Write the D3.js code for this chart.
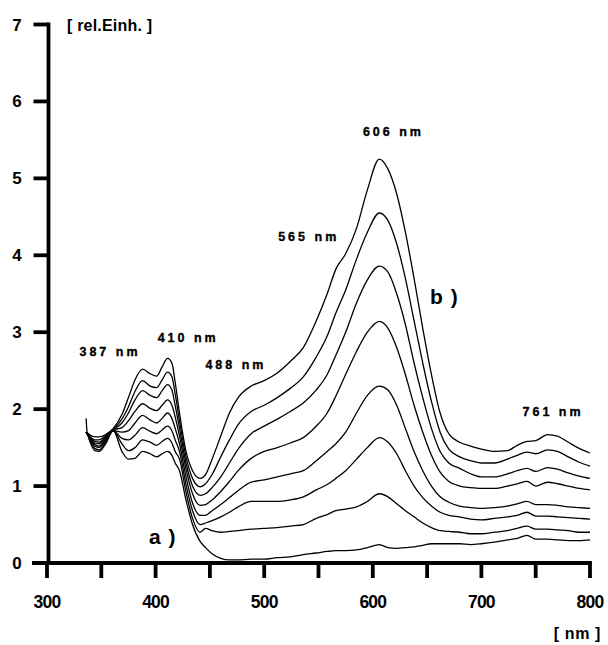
<!DOCTYPE html>
<html>
<head>
<meta charset="utf-8">
<script src="https://cdn.jsdelivr.net/npm/d3@7"></script>
<style>
  html, body { margin: 0; padding: 0; background: #fff; }
  svg { display: block; }
  text { font-family: "Liberation Sans", Arial, sans-serif; font-weight: bold; fill: #000; }
</style>
</head>
<body>
<svg id="chart" width="608" height="645"></svg>
<script>
// Wavelength grid (nm) shared by all spectra
const wavelengths = [336, 337, 340, 344, 348, 354, 361, 369, 375, 381, 388, 395, 401, 406, 411, 415, 418, 422, 428, 434, 441, 446, 452, 460, 468, 476, 488, 500, 512, 524, 536, 548, 558, 566, 575, 585, 595, 606, 614, 622, 630, 638, 646, 654, 662, 670, 680, 690, 700, 712, 724, 733, 742, 750, 761, 770, 780, 790, 800];

// Absorption spectra, rel. units (lowest = a, highest = b)
const spectrum1 = [1.70, 1.68, 1.56, 1.46, 1.45, 1.55, 1.72, 1.45, 1.35, 1.36, 1.45, 1.42, 1.38, 1.42, 1.45, 1.40, 1.30, 1.20, 0.82, 0.50, 0.28, 0.20, 0.12, 0.06, 0.04, 0.04, 0.05, 0.05, 0.07, 0.08, 0.11, 0.13, 0.15, 0.16, 0.16, 0.17, 0.20, 0.24, 0.20, 0.19, 0.20, 0.21, 0.23, 0.25, 0.25, 0.25, 0.25, 0.24, 0.25, 0.27, 0.30, 0.32, 0.36, 0.31, 0.31, 0.30, 0.29, 0.29, 0.30];
const spectrum2 = [1.70, 1.68, 1.58, 1.49, 1.47, 1.57, 1.72, 1.55, 1.46, 1.50, 1.60, 1.57, 1.53, 1.58, 1.62, 1.56, 1.45, 1.35, 0.92, 0.58, 0.40, 0.45, 0.42, 0.40, 0.41, 0.42, 0.44, 0.45, 0.46, 0.48, 0.50, 0.58, 0.63, 0.68, 0.70, 0.73, 0.80, 0.90, 0.86, 0.77, 0.68, 0.60, 0.52, 0.46, 0.42, 0.41, 0.40, 0.38, 0.38, 0.40, 0.42, 0.45, 0.48, 0.44, 0.44, 0.43, 0.42, 0.40, 0.40];
const spectrum3 = [1.70, 1.68, 1.60, 1.52, 1.50, 1.59, 1.72, 1.62, 1.60, 1.66, 1.76, 1.71, 1.68, 1.73, 1.78, 1.72, 1.60, 1.45, 1.02, 0.68, 0.50, 0.52, 0.55, 0.60, 0.66, 0.73, 0.80, 0.80, 0.80, 0.82, 0.86, 0.95, 1.02, 1.10, 1.20, 1.35, 1.50, 1.63, 1.57, 1.42, 1.20, 1.00, 0.85, 0.74, 0.66, 0.62, 0.60, 0.57, 0.56, 0.58, 0.60, 0.62, 0.66, 0.61, 0.61, 0.60, 0.59, 0.58, 0.57];
const spectrum4 = [1.70, 1.68, 1.61, 1.54, 1.52, 1.61, 1.72, 1.70, 1.72, 1.82, 1.92, 1.86, 1.82, 1.88, 1.95, 1.88, 1.75, 1.55, 1.12, 0.78, 0.62, 0.62, 0.68, 0.76, 0.85, 0.94, 1.05, 1.08, 1.12, 1.16, 1.20, 1.33, 1.45, 1.55, 1.70, 1.95, 2.18, 2.30, 2.25, 2.05, 1.75, 1.45, 1.20, 1.00, 0.86, 0.79, 0.74, 0.72, 0.71, 0.72, 0.74, 0.77, 0.80, 0.76, 0.76, 0.75, 0.73, 0.72, 0.71];
const spectrum5 = [1.70, 1.68, 1.62, 1.56, 1.55, 1.63, 1.73, 1.76, 1.85, 1.97, 2.07, 2.01, 1.98, 2.05, 2.12, 2.05, 1.90, 1.65, 1.22, 0.90, 0.75, 0.76, 0.82, 0.93, 1.06, 1.20, 1.36, 1.45, 1.50, 1.56, 1.63, 1.78, 1.95, 2.17, 2.45, 2.75, 3.00, 3.14, 3.05, 2.80, 2.45, 2.05, 1.70, 1.40, 1.18, 1.06, 1.00, 0.98, 0.97, 0.97, 1.00, 1.03, 1.06, 1.00, 1.05, 1.03, 1.00, 0.97, 0.95];
const spectrum6 = [1.70, 1.68, 1.63, 1.58, 1.57, 1.64, 1.73, 1.82, 1.95, 2.12, 2.24, 2.18, 2.15, 2.24, 2.32, 2.25, 2.05, 1.75, 1.30, 1.00, 0.88, 0.90, 0.98, 1.12, 1.30, 1.48, 1.68, 1.78, 1.87, 1.97, 2.08, 2.25, 2.45, 2.70, 3.00, 3.38, 3.68, 3.86, 3.78, 3.50, 3.10, 2.60, 2.15, 1.75, 1.45, 1.30, 1.23, 1.16, 1.12, 1.12, 1.16, 1.20, 1.23, 1.19, 1.24, 1.22, 1.17, 1.13, 1.10];
const spectrum7 = [1.70, 1.68, 1.64, 1.60, 1.60, 1.66, 1.74, 1.87, 2.03, 2.23, 2.37, 2.30, 2.28, 2.38, 2.48, 2.42, 2.20, 1.85, 1.38, 1.10, 0.99, 1.03, 1.15, 1.38, 1.60, 1.80, 1.97, 2.05, 2.15, 2.27, 2.42, 2.68, 2.95, 3.25, 3.55, 3.95, 4.30, 4.55, 4.45, 4.15, 3.70, 3.15, 2.60, 2.10, 1.70, 1.48, 1.38, 1.33, 1.30, 1.30, 1.35, 1.40, 1.44, 1.42, 1.47, 1.45, 1.38, 1.31, 1.26];
const spectrum8 = [1.88, 1.70, 1.66, 1.64, 1.64, 1.67, 1.75, 1.93, 2.15, 2.38, 2.52, 2.46, 2.43, 2.55, 2.66, 2.60, 2.35, 1.95, 1.45, 1.20, 1.10, 1.15, 1.35, 1.65, 1.95, 2.15, 2.30, 2.37, 2.47, 2.62, 2.80, 3.15, 3.50, 3.82, 4.02, 4.35, 4.85, 5.25, 5.12, 4.80, 4.30, 3.70, 3.05, 2.45, 1.95, 1.68, 1.57, 1.52, 1.48, 1.45, 1.46, 1.53, 1.58, 1.59, 1.67, 1.65, 1.57, 1.49, 1.43];
const spectra = [spectrum1, spectrum2, spectrum3, spectrum4, spectrum5, spectrum6, spectrum7, spectrum8];

// Axis ticks
const xTickValues = [300, 350, 400, 450, 500, 550, 600, 650, 700, 750, 800];
const xTickLabels = [300, 400, 500, 600, 700, 800];
const yTickValues = [0, 1, 2, 3, 4, 5, 6, 7];

// Band annotations: label, wavelength, height (rel. units)
const bandLabels = ["387 nm", "410 nm", "488 nm", "565 nm", "606 nm", "761 nm"];
const bandNm =     [ 358,      430,      474,      541,      619,      766    ];
const bandLevel =  [ 2.69,     2.87,     2.52,     4.18,     5.55,     1.91   ];

const svg = d3.select("#chart");

const x = d3.scaleLinear().domain([300, 800]).range([47, 590]);
const y = d3.scaleLinear().domain([0, 7]).range([563, 24.5]);

// Spectra
const line = d3.line()
  .x((d, i) => x(wavelengths[i]))
  .y(d => y(d))
  .curve(d3.curveMonotoneX);

svg.append("g")
  .selectAll("path")
  .data(spectra)
  .join("path")
  .attr("d", line)
  .attr("fill", "none")
  .attr("stroke", "#000")
  .attr("stroke-width", 1.3)
  .attr("stroke-linejoin", "round");

// Heavy axis frame: baseline, vertical axis and tick marks
const axisW = 3.8;
const x0 = x(300) + 1.5;
const frame = svg.append("g").attr("stroke", "#000").attr("stroke-width", axisW).attr("fill", "none");
frame.append("line")
  .attr("x1", x(300) - 15).attr("x2", x(800) + axisW / 2)
  .attr("y1", y(0)).attr("y2", y(0));
frame.append("line")
  .attr("x1", x0).attr("x2", x0)
  .attr("y1", y(0) + axisW / 2).attr("y2", y(7) - axisW / 2);
frame.selectAll("line.xt")
  .data(xTickValues)
  .join("line")
  .attr("class", "xt")
  .attr("x1", d => x(d)).attr("x2", d => x(d))
  .attr("y1", y(0)).attr("y2", y(0) + 15);
frame.selectAll("line.yt")
  .data(yTickValues)
  .join("line")
  .attr("class", "yt")
  .attr("x1", x0 - 15).attr("x2", x0)
  .attr("y1", d => y(d)).attr("y2", d => y(d));

// Tick labels
svg.append("g")
  .selectAll("text")
  .data(xTickLabels)
  .join("text")
  .attr("x", d => x(d))
  .attr("y", y(0) + 45)
  .attr("text-anchor", "middle")
  .style("font-size", "17.5px")
  .style("letter-spacing", "-0.8px")
  .text(d => d);
svg.append("g")
  .selectAll("text")
  .data(yTickValues)
  .join("text")
  .attr("x", 17)
  .attr("y", d => y(d) + 6)
  .attr("text-anchor", "middle")
  .style("font-size", "17px")
  .text(d3.format("d"));

// Unit labels
svg.append("text")
  .attr("x", 67).attr("y", 31)
  .style("font-size", "16px")
  .style("letter-spacing", "0.2px")
  .text("[ rel.Einh. ]");
svg.append("text")
  .attr("x", 601).attr("y", 639)
  .attr("text-anchor", "end")
  .style("font-size", "16px")
  .style("letter-spacing", "0.6px")
  .text("[ nm ]");

// Band annotations
svg.append("g")
  .selectAll("text")
  .data(bandLabels)
  .join("text")
  .attr("x", (d, i) => x(bandNm[i]))
  .attr("y", (d, i) => y(bandLevel[i]))
  .attr("text-anchor", "middle")
  .style("font-size", "12.5px")
  .style("letter-spacing", "3px")
  .style("stroke", "#000")
  .style("stroke-width", "0.35px")
  .text(d => d);

// Series markers
svg.append("text").attr("x", 430).attr("y", 304).style("font-size", "21px").style("letter-spacing", "1px").text("b )");
svg.append("text").attr("x", 149).attr("y", 544).style("font-size", "21px").style("letter-spacing", "1px").text("a )");
</script>
</body>
</html>
